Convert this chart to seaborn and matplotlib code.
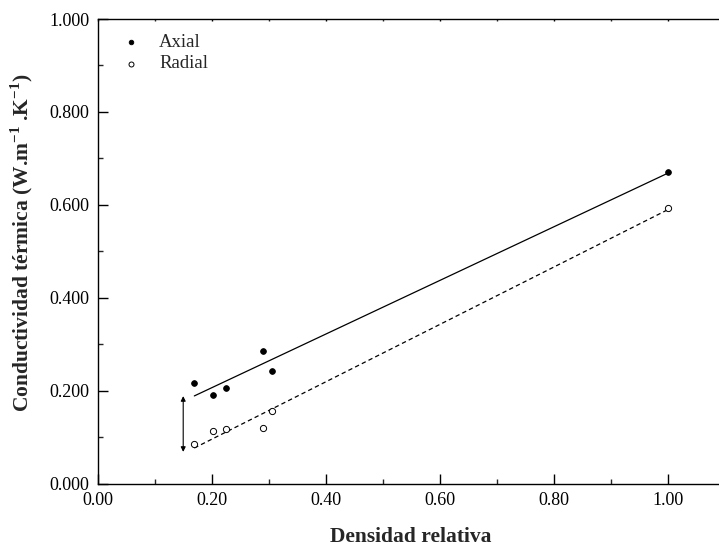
import numpy as np
import pandas as pd
import matplotlib
matplotlib.use("Agg")
import matplotlib.pyplot as plt
from matplotlib.ticker import MultipleLocator, FormatStrFormatter
import seaborn as sns

# Relative density and measured thermal conductivity (W/m.K)
densidad_axial = [0.1695, 0.2017, 0.2257, 0.2906, 0.305, 1.00]
conduct_axial = [0.217, 0.191, 0.207, 0.286, 0.243, 0.670]
densidad_radial = [0.1695, 0.2017, 0.2250, 0.2906, 0.305, 1.00]
conduct_radial = [0.086, 0.113, 0.119, 0.121, 0.156, 0.594]
series_labels = ["Axial", "Radial"]

# Span of the double arrow marking the axial/radial gap
gap_x = 0.15
gap_top, gap_bottom = 0.189, 0.069

df = pd.concat([
    pd.DataFrame({"densidad": densidad_axial, "k": conduct_axial, "serie": series_labels[0]}),
    pd.DataFrame({"densidad": densidad_radial, "k": conduct_radial, "serie": series_labels[1]}),
], ignore_index=True)

sns.set_theme(style="ticks")
plt.rcParams["font.family"] = ["Liberation Serif", "DejaVu Serif"]
plt.rcParams["mathtext.fontset"] = "custom"
plt.rcParams["mathtext.rm"] = "Liberation Serif"
plt.rcParams["mathtext.bf"] = "Liberation Serif:bold"

fig = plt.figure(figsize=(7.19, 5.46), dpi=100)
ax = fig.add_axes([0.1359, 0.1136, 0.872, 0.8516])

ax_df = df[df["serie"] == "Axial"]
rad_df = df[df["serie"] == "Radial"]

# Least-squares fits over the measured range
sns.regplot(data=ax_df, x="densidad", y="k", scatter=False, ci=None, truncate=True,
            ax=ax, line_kws=dict(color="black", lw=0.9, ls="-"))
sns.regplot(data=rad_df, x="densidad", y="k", scatter=False, ci=None, truncate=True,
            ax=ax, line_kws=dict(color="black", lw=0.9, ls=(0, (3.5, 2.5))))

h1 = ax.scatter(ax_df["densidad"], ax_df["k"], s=17, facecolor="black",
                edgecolor="black", linewidth=0.6, zorder=3, label="Axial")
h2 = ax.scatter(rad_df["densidad"], rad_df["k"], s=20, facecolor="white",
                edgecolor="black", linewidth=0.7, zorder=3, label="Radial")

ax.annotate("", xy=(gap_x, gap_bottom), xytext=(gap_x, gap_top),
            arrowprops=dict(arrowstyle="<|-|>", color="black", lw=0.8,
                            mutation_scale=7, shrinkA=0, shrinkB=0))

ax.set_xlim(0, 1.1)
ax.set_ylim(0, 1.0)
ax.xaxis.set_major_locator(MultipleLocator(0.2))
ax.xaxis.set_minor_locator(MultipleLocator(0.1))
ax.yaxis.set_major_locator(MultipleLocator(0.2))
ax.yaxis.set_minor_locator(MultipleLocator(0.1))
ax.xaxis.set_major_formatter(FormatStrFormatter("%.2f"))
ax.yaxis.set_major_formatter(FormatStrFormatter("%.3f"))

ax.tick_params(which="major", direction="in", length=7, width=1.0, labelsize=13,
               colors="black", pad=6, top=True, right=False)
ax.tick_params(which="minor", direction="in", length=3.5, width=1.0,
               top=True, right=False)
for t in ax.xaxis.get_ticklines(minor=False)[1::2] + ax.xaxis.get_ticklines(minor=True)[1::2]:
    t.set_markersize(1.5)

for side in ["left", "bottom", "top"]:
    ax.spines[side].set_linewidth(1.0)
    ax.spines[side].set_color("black")
ax.spines["right"].set_visible(False)

ax.set_xlabel("Densidad relativa", fontsize=15.5, fontweight="bold")
ax.set_ylabel(r"Conductividad térmica (W.m$^{\mathbf{-1}}$ .K$^{\mathbf{-1}}$)",
              fontsize=15.5, fontweight="bold")
ax.xaxis.set_label_coords(0.5, -0.092)
ax.yaxis.set_label_coords(-0.1, 0.52)

ax.legend(handles=[h1, h2], labels=series_labels, loc="upper left",
          bbox_to_anchor=(0.002, 1.005), frameon=False, fontsize=13.5,
          handletextpad=0.7, labelspacing=0.25, handlelength=1.6, markerscale=0.8)

fig.savefig("out.png", dpi=100)
